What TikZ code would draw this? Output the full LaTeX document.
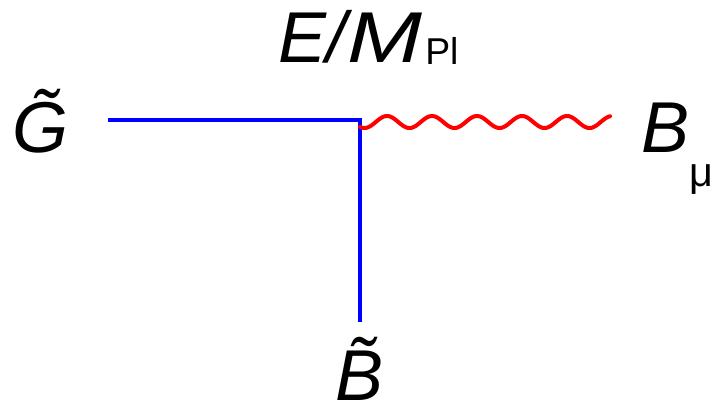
\documentclass[tikz,border=0pt]{standalone}
\usepackage{fontspec}
\setmainfont{Liberation Sans}
\begin{document}
\begin{tikzpicture}[x=0.75pt,y=-0.75pt,
  lbl/.style={inner sep=0pt,anchor=base west,font=\fontsize{54}{60}\selectfont},
  fermion/.style={draw=blue,line width=3pt},
  boson/.style={draw=red,line width=3pt,line cap=round}]
\useasboundingbox (0,0) rectangle (720,408);
\coordinate (g) at (108,120);
\coordinate (v) at (360,120);
\coordinate (b) at (360,322);
\coordinate (bm) at (610,120);
\draw[fermion] (g) -- (v) -- (b);
\begin{scope}[shift={(v)}]
\draw[boson] plot[domain=0:250,samples=250,smooth] (\x,{2-6*cos(8*(\x-27))});
\end{scope}
\node[lbl] (Gt) at (12,152) {\textit{\~{G}}};
\node[lbl] (Bmu) at (641,152) {\textit{B}\raisebox{-26pt}{\fontsize{31}{34}\selectfont μ}};
\node[lbl] (EM) at (278,62) {\textit{E/\kern1pt\scalebox{1.25}[1]{M}}\kern2pt\raisebox{-2pt}{\fontsize{28}{32}\selectfont Pl}};
\node[lbl] (Bt) at (335,400) {\textit{\~{B}}};
\end{tikzpicture}
\end{document}
